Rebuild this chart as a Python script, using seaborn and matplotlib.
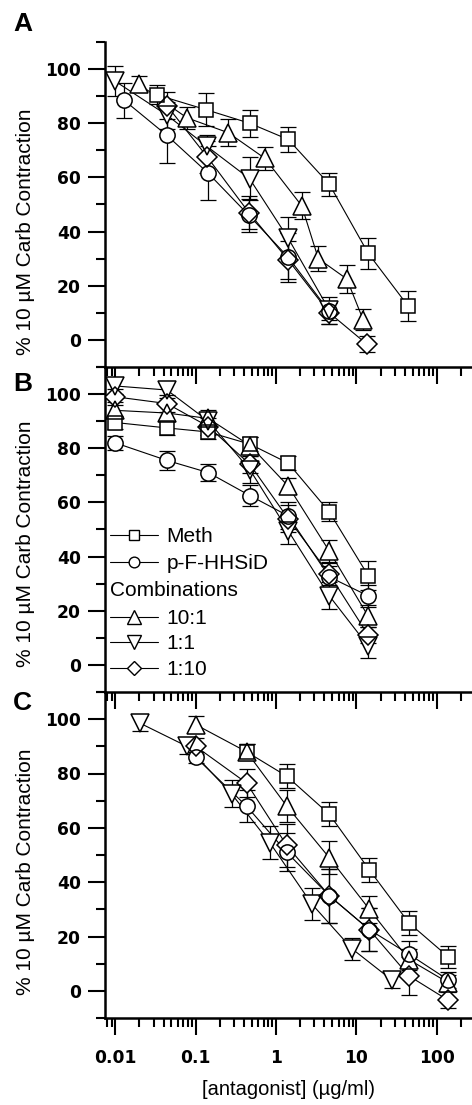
import numpy as np
import pandas as pd
import matplotlib
matplotlib.use("Agg")
import matplotlib.pyplot as plt
from matplotlib.lines import Line2D
from matplotlib.ticker import LogLocator, NullFormatter, FixedLocator
import seaborn as sns

sns.set_style("ticks")
plt.rcParams["font.family"] = ["Liberation Sans", "DejaVu Sans"]
plt.rcParams["text.color"] = "black"
plt.rcParams["axes.labelcolor"] = "black"
plt.rcParams["xtick.color"] = "black"
plt.rcParams["ytick.color"] = "black"

series = ["Meth", "p-F-HHSiD", "10:1", "1:1", "1:10"]
markers = {"Meth": "s", "p-F-HHSiD": "o", "10:1": "^", "1:1": "v", "1:10": "D"}
msize = {"Meth": 10, "p-F-HHSiD": 11, "10:1": 13.5, "1:1": 13.5, "1:10": 10.5}

# Panel A
a_meth_x = [0.033, 0.135, 0.47, 1.42, 4.6, 14, 44]
a_meth_y = [90.5, 85, 80, 74, 57.5, 32, 12.5]
a_meth_e = [3.5, 6, 5, 4.5, 4.3, 5.7, 5.4]
a_pf_x = [0.0129, 0.044, 0.144, 0.46, 1.42, 4.6]
a_pf_y = [88.5, 75.5, 61.5, 46, 30.5, 10.5]
a_pf_e = [6.5, 10, 10, 6, 9, 3]
a_101_x = [0.0195, 0.078, 0.255, 0.73, 2.09, 3.36, 7.6, 12.1]
a_101_y = [94.5, 82, 76.5, 67, 49.5, 30, 22.5, 7.5]
a_101_e = [3, 4, 5, 4.3, 5, 4.6, 5, 4]
a_11_x = [0.01, 0.044, 0.138, 0.47, 1.42, 4.6]
a_11_y = [95.5, 83, 71.5, 59.5, 37.5, 11]
a_11_e = [5.5, 5, 4, 8, 8, 5]
a_110_x = [0.044, 0.14, 0.46, 1.42, 4.6, 13.4]
a_110_y = [86.5, 67.5, 47, 29.5, 10, -1.5]
a_110_e = [5, 6, 6, 7, 4, 3]

# Panel B
b_x = [0.01, 0.044, 0.144, 0.475, 1.42, 4.6, 14]
b_meth_y = [89.5, 87.5, 86, 81.5, 74.5, 56.5, 33]
b_meth_e = [2.5, 2.5, 2.5, 2.5, 2.5, 3.5, 5.5]
b_pf_y = [82, 75.5, 71, 62.5, 55, 32.5, 25.5]
b_pf_e = [2.5, 3.5, 3, 4, 5, 4, 4]
b_101_y = [94, 93, 91, 81, 66, 42, 18]
b_101_e = [3, 3, 3, 3, 3, 4, 4]
b_11_y = [103, 101.5, 90, 72, 49.5, 25.5, 7]
b_11_e = [3, 3, 3, 5, 5, 5, 4.5]
b_110_y = [99, 96.5, 88, 74, 54, 33.5, 11]
b_110_e = [3, 3, 3, 3, 5, 4, 3]

# Panel C
c_meth_x = [0.43, 1.36, 4.6, 14.5, 45, 139]
c_meth_y = [88, 79, 65, 44.5, 25, 12.5]
c_meth_e = [3, 4.5, 4.5, 4.5, 4.5, 4]
c_x = [0.1, 0.43, 1.36, 4.6, 14.5, 45, 139]
c_pf_y = [86, 68, 51, 35, 22.5, 13.5, 4]
c_pf_e = [2, 6, 7, 10, 8, 5, 3]
c_101_y = [98, 88, 68, 49, 30, 11.5, 3]
c_101_e = [3, 3, 6, 6, 5, 4, 3]
c_11_x = [0.0204, 0.078, 0.28, 0.84, 2.78, 8.8, 27.5]
c_11_y = [98.5, 90, 72.5, 54.5, 32, 15.5, 4]
c_11_e = [3, 3, 5, 6, 6, 4, 3]
c_110_y = [90, 76.5, 53.5, 35, 22.5, 5.5, -3.5]
c_110_e = [3, 5, 8, 10, 8, 7, 3]


def make_df(rows):
    frames = []
    for name, x, y, e in rows:
        frames.append(pd.DataFrame({"dose": x, "pct": y, "err": e, "series": name}))
    return pd.concat(frames, ignore_index=True)


df_a = make_df([("Meth", a_meth_x, a_meth_y, a_meth_e),
                ("p-F-HHSiD", a_pf_x, a_pf_y, a_pf_e),
                ("10:1", a_101_x, a_101_y, a_101_e),
                ("1:1", a_11_x, a_11_y, a_11_e),
                ("1:10", a_110_x, a_110_y, a_110_e)])
df_b = make_df([("Meth", b_x, b_meth_y, b_meth_e),
                ("p-F-HHSiD", b_x, b_pf_y, b_pf_e),
                ("10:1", b_x, b_101_y, b_101_e),
                ("1:1", b_x, b_11_y, b_11_e),
                ("1:10", b_x, b_110_y, b_110_e)])
df_c = make_df([("Meth", c_meth_x, c_meth_y, c_meth_e),
                ("p-F-HHSiD", c_x, c_pf_y, c_pf_e),
                ("10:1", c_x, c_101_y, c_101_e),
                ("1:1", c_11_x, c_11_y, c_11_e),
                ("1:10", c_x, c_110_y, c_110_e)])

W, H = 472, 1105
fig = plt.figure(figsize=(W / 100, H / 100), dpi=100)


def px_axes(top, bottom):
    ax = fig.add_axes([105 / W, (H - bottom) / H, 367 / W, (bottom - top) / H])
    ax.patch.set_visible(False)
    return ax


tick_font = dict(family="DejaVu Sans", weight="bold", size=12.3)


def draw(ax, df):
    ax.set_xscale("log")
    # lines + error bars first, then white fill, then outlines on top
    for name in series:
        d = df[df.series == name]
        sns.lineplot(data=d, x="dose", y="pct", color="black", lw=0.8,
                     estimator=None, sort=False, errorbar=None, ax=ax, zorder=1)
        ax.errorbar(d["dose"], d["pct"], yerr=d["err"], fmt="none", ecolor="black",
                    elinewidth=0.9, capsize=5.5, capthick=0.9, zorder=2)
    for name in series:
        d = df[df.series == name]
        sns.lineplot(data=d, x="dose", y="pct", lw=0, marker=markers[name],
                     markersize=msize[name], mfc="white", mec="white", mew=0,
                     estimator=None, sort=False, errorbar=None, ax=ax, zorder=3)
    for name in series:
        d = df[df.series == name]
        sns.lineplot(data=d, x="dose", y="pct", lw=0, marker=markers[name],
                     markersize=msize[name], mfc="none", mec="black", mew=1.1,
                     estimator=None, sort=False, errorbar=None, ax=ax, zorder=4)

    ax.set_xlim(0.00746, 274)
    ax.set_ylim(-10, 110)
    ax.set_xticks([0.01, 0.1, 1, 10, 100], labels=["0.01", "0.1", "1", "10", "100"],
                  **tick_font)
    ax.xaxis.set_minor_locator(LogLocator(base=10, subs=np.arange(2, 10) * 1.0, numticks=20))
    ax.xaxis.set_minor_formatter(NullFormatter())
    ax.set_yticks(range(0, 101, 20), labels=[str(v) for v in range(0, 101, 20)],
                  **tick_font)
    ax.yaxis.set_minor_locator(FixedLocator(range(-10, 111, 20)))
    ax.tick_params(which="major", direction="out", length=12.5, width=1.5,
                   pad=5, color="black")
    ax.tick_params(axis="x", which="major", pad=10)
    ax.tick_params(which="minor", direction="out", length=6.5, width=1.5, color="black")
    for s in ["top", "right"]:
        ax.spines[s].set_visible(False)
    for s in ["left", "bottom"]:
        ax.spines[s].set_linewidth(1.8)
        ax.spines[s].set_color("black")
    ax.set_xlabel("")
    ax.set_ylabel("% 10 µM Carb Contraction", fontsize=15)


ax_a = px_axes(42, 367)
ax_b = px_axes(367, 692)
ax_c = px_axes(692, 1018)
for ax, df in [(ax_a, df_a), (ax_b, df_b), (ax_c, df_c)]:
    draw(ax, df)

ax_a.tick_params(axis="x", labelbottom=False)
ax_b.tick_params(axis="x", labelbottom=False)
ax_a.yaxis.set_label_coords(-0.19, 0.415)
ax_b.yaxis.set_label_coords(-0.19, 0.455)
ax_c.yaxis.set_label_coords(-0.19, 0.45)
ax_c.set_xlabel("[antagonist] (µg/ml)", fontsize=14.5, labelpad=9)


# legend in panel B
def handle(name):
    return Line2D([], [], color="black", lw=0.8, marker=markers[name],
                  markersize=msize[name], mfc="white", mec="black", mew=1.0)


leg_kw = dict(frameon=False, borderpad=0, borderaxespad=0, handlelength=2.3,
              handletextpad=0.4, fontsize=15, markerscale=0.7)
leg1 = ax_b.legend([handle("Meth"), handle("p-F-HHSiD")], ["Meth", "p-F-HHSiD"],
                   loc="upper left", bbox_to_anchor=(0.0136, 0.508),
                   labelspacing=0.38, **leg_kw)
ax_b.add_artist(leg1)
ax_b.text(0.0136, 0.312, "Combinations", transform=ax_b.transAxes, fontsize=15,
          ha="left", va="center")
leg2 = ax_b.legend([handle("10:1"), handle("1:1"), handle("1:10")], ["10:1", "1:1", "1:10"],
                   loc="upper left", bbox_to_anchor=(0.0136, 0.256),
                   labelspacing=0.32, **leg_kw)

for letter, y in [("A", 24), ("B", 384), ("C", 703)]:
    fig.text(13 / W, 1 - y / H, letter, fontsize=19, fontweight="bold",
             ha="left", va="center")

fig.savefig("out.png", dpi=100)
